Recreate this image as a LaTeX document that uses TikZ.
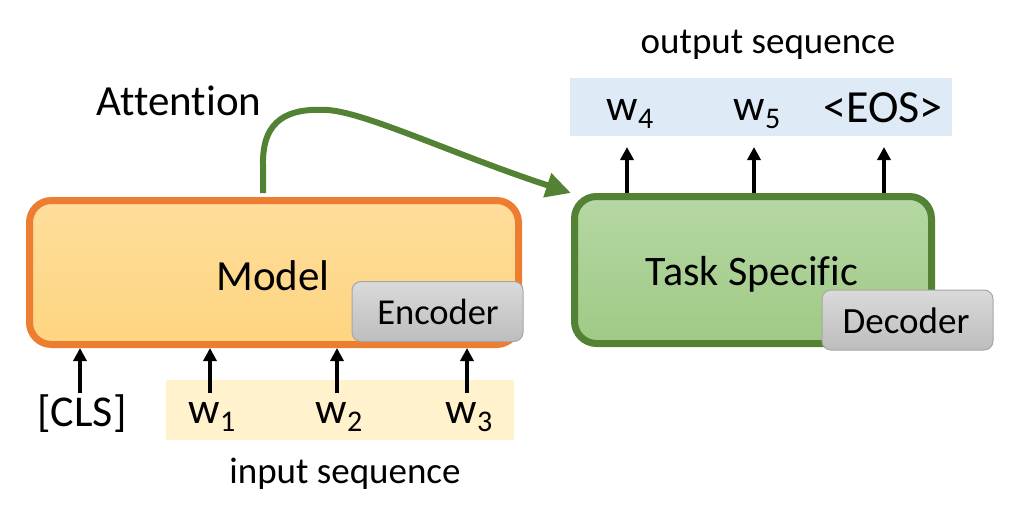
\documentclass[tikz,border=0pt]{standalone}
\usepackage{fontspec}
\setmainfont[Ligatures={NoCommon}]{Carlito}
\usetikzlibrary{arrows.meta}
\definecolor{orangeB}{HTML}{ED7D31}
\definecolor{modelTop}{HTML}{FFDD9B}
\definecolor{modelBot}{HTML}{FED580}
\definecolor{greenB}{HTML}{548235}
\definecolor{taskTop}{HTML}{B6D7A4}
\definecolor{taskBot}{HTML}{9FCA85}
\definecolor{greyTop}{HTML}{DADADA}
\definecolor{greyBot}{HTML}{BDBDBD}
\definecolor{greyB}{HTML}{A6A6A6}
\definecolor{blueBand}{HTML}{DEEBF7}
\definecolor{inBand}{HTML}{FFF2CC}
\newcommand\wsub[1]{w\raisebox{-8.5pt}{\fontsize{30}{30}\selectfont #1}}
\tikzset{
  txt/.style={inner sep=0pt, anchor=base},
  bigbox/.style={rounded corners=22pt, line width=7pt, inner sep=0pt},
  tagbox/.style={rounded corners=9pt, draw=greyB, line width=1pt, top color=greyTop, bottom color=greyBot, inner sep=0pt, minimum width=171pt, minimum height=60pt},
  arr/.style={line width=3.5pt, -{Triangle[length=13pt,width=13pt]}},
  band/.style={inner sep=0pt, draw=none}
}
\begin{document}
\begin{tikzpicture}[x=1pt,y=-1pt]
\useasboundingbox (0,0) rectangle (1010,509);
% bands
\node[band, fill=blueBand, minimum width=382pt, minimum height=58pt] (outband) at (761,107) {};
\node[band, fill=inBand, minimum width=348pt, minimum height=60pt] (inband) at (340,410) {};
% main boxes
\node[bigbox, draw=orangeB, top color=modelTop, bottom color=modelBot, minimum width=489pt, minimum height=144pt] (model) at (274,272.5) {};
\node[txt, font=\fontsize{43}{43}\selectfont] (modeltxt) at (273,290) {Model};
\node[tagbox] (enc) at (437.5,311.5) {};
\node[txt, font=\fontsize{36.5}{36.5}\selectfont] (enctxt) at (438,324) {Encoder};
\node[bigbox, draw=greenB, top color=taskTop, bottom color=taskBot, minimum width=357pt, minimum height=147pt] (task) at (753,270) {};
\node[txt, font=\fontsize{42}{42}\selectfont] (tasktxt) at (752,285) {Task Specific};
\node[tagbox] (dec) at (907.5,320) {};
\node[txt, font=\fontsize{37}{37}\selectfont] (dectxt) at (906,333) {Decoder};
% labels
\node[txt, font=\fontsize{43}{43}\selectfont] (attn) at (179,115) {Attention};
\node[txt, font=\fontsize{37}{37}\selectfont] (outlbl) at (768,53) {output sequence};
\node[txt, font=\fontsize{37}{37}\selectfont] (inlbl) at (345,483) {input sequence};
\node[txt, font=\fontsize{44}{44}\selectfont] (cls) at (82,426) {[CLS]};
\node[txt, font=\fontsize{44}{44}\selectfont] (w1) at (212,423) {\wsub{1}};
\node[txt, font=\fontsize{44}{44}\selectfont] (w2) at (339,423) {\wsub{2}};
\node[txt, font=\fontsize{44}{44}\selectfont] (w3) at (469,423) {\wsub{3}};
\node[txt, font=\fontsize{44}{44}\selectfont] (w4) at (630,120) {\wsub{4}};
\node[txt, font=\fontsize{44}{44}\selectfont] (w5) at (757,120) {\wsub{5}};
\node[txt, font=\fontsize{46}{46}\selectfont] (eos) at (883,122) {<EOS>};
% input arrows
\coordinate (c0) at (80,393);
\coordinate (c1) at (210,393);
\coordinate (c2) at (337,393);
\coordinate (c3) at (467,393);
\foreach \c in {c0,c1,c2,c3} \draw[arr] (\c) -- (\c |- model.south);
% output arrows
\coordinate (o1) at (627,147);
\coordinate (o2) at (754,147);
\coordinate (o3) at (884,147);
\foreach \c in {o1,o2,o3} \draw[arr] (\c |- task.north) -- (\c);
% attention arrow
\coordinate (as) at (263,193);
\draw[greenB, line width=6pt, -{Triangle[length=25pt,width=24pt]}]
  (as) -- (263,165) .. controls (262,118) and (290,108) .. (327,110)
  .. controls (365,112) and (455,155) .. (task.north west);
\end{tikzpicture}
\end{document}
